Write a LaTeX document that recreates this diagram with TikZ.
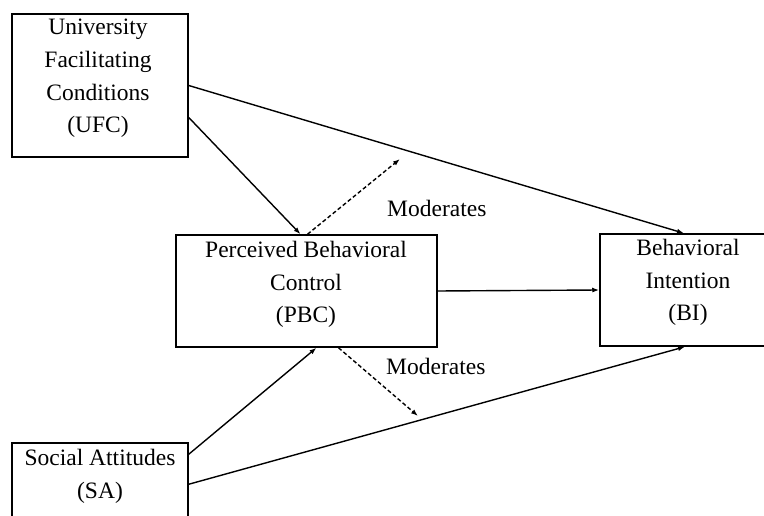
\documentclass[tikz,border=0pt]{standalone}
\usepackage{fontspec}
\setmainfont{Liberation Serif}
\usetikzlibrary{arrows.meta}
\begin{document}
\begin{tikzpicture}[x=1pt,y=-1pt,
  box/.style={draw=black,line width=1.5pt,inner sep=0pt,minimum width=#1},
  txt/.style={align=center,inner sep=0pt,anchor=north,font=\fontsize{23.5}{32.7}\selectfont},
  lbl/.style={inner sep=0pt,anchor=base west,font=\fontsize{23.5}{32.7}\selectfont},
  conn/.style={line width=1.4pt,-{Latex[length=7pt,width=5pt]}},
  modline/.style={conn,dash pattern=on 4pt off 2.5pt}]
\useasboundingbox (0,0) rectangle (764,516);
% boxes
\node[box=176pt,minimum height=143pt] (ufc) at (100,85.5) {};
\node[box=261pt,minimum height=112pt] (pbc) at (306.5,291) {};
\node[box=220pt,minimum height=112pt] (bi) at (710,290) {};
\node[box=176pt,minimum height=130pt] (sa) at (100,508) {};
% texts
\node[txt] (ufct) at (98,19) {University\\Facilitating\\Conditions\\(UFC)};
\node[txt] (pbct) at (306,241) {Perceived Behavioral\\Control\\(PBC)};
\node[txt] (bit) at (688,239) {Behavioral\\Intention\\(BI)};
\node[txt] (sat) at (100,449) {Social Attitudes\\(SA)};
\node[lbl] (mod1) at (387,217) {Moderates};
\node[lbl] (mod2) at (386,374) {Moderates};
% free ends of moderation arrows
\coordinate (m1) at (400,159);
\coordinate (m2) at (418,416);
% connectors
\draw[conn] (ufc.east) -- ([xshift=-26pt]bi.north);
\draw[conn] ([yshift=-32pt]ufc.east) -- ([xshift=-6pt]pbc.north);
\draw[modline] ([xshift=1pt]pbc.north) -- (m1);
\draw[conn] (pbc.east) -- (bi.west);
\draw[conn] ([yshift=-12pt]sa.north east) -- ([xshift=10pt]pbc.south);
\draw[conn] ([yshift=-42pt]sa.north east) -- ([xshift=-25pt]bi.south);
\draw[modline] ([xshift=32pt]pbc.south) -- (m2);
\end{tikzpicture}
\end{document}
